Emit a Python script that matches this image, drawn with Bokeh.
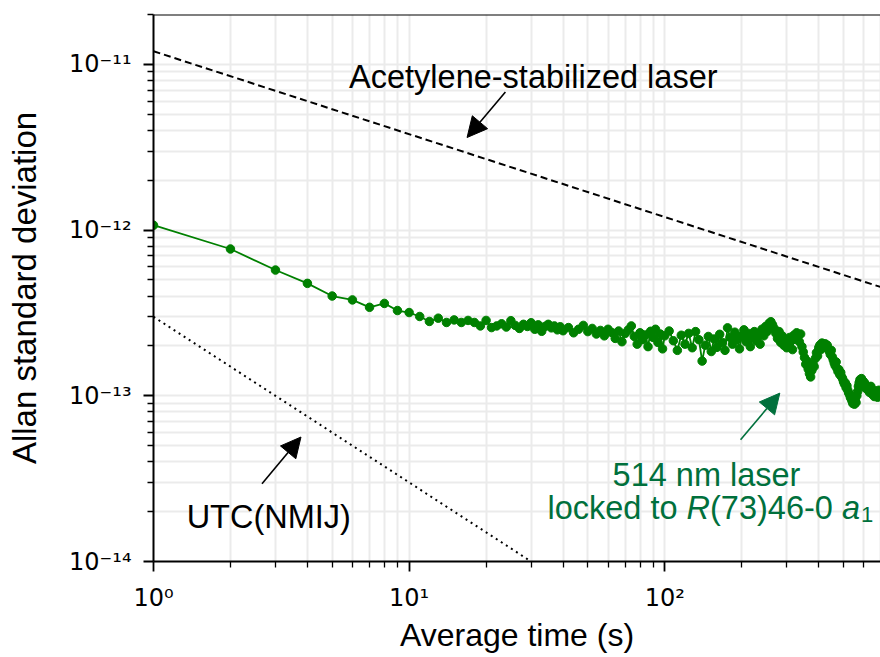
import numpy as np
from bokeh.plotting import figure
from bokeh.models import Range1d, FixedTicker, CustomJSTickFormatter, Label, Arrow, NormalHead, Span
from bokeh.embed import file_html
from bokeh.resources import INLINE

# ---------------- data ----------------
acet_tau = [1, 1000]
acet_sigma = [1.2e-11, 3.79e-13]

utc_tau = [1, 30]
utc_sigma = [3.0e-13, 1.0e-14]

laser_tau = list(range(1, 41)) + list(range(42, 101, 2)) + list(range(104, 701, 4))
laser_sigma_e13 = [
    # tau 1..40
    10.7, 7.69, 5.74, 4.77, 4.00, 3.79, 3.42, 3.61, 3.27, 3.18,
    3.01, 2.81, 2.94, 2.77, 2.87, 2.77, 2.85, 2.77, 2.64, 2.85,
    2.58, 2.64, 2.72, 2.60, 2.84, 2.66, 2.55, 2.70, 2.62, 2.76,
    2.52, 2.68, 2.45, 2.62, 2.70, 2.57, 2.64, 2.50, 2.61, 2.47,
    # tau 42..100 step 2
    2.58, 2.40, 2.52, 2.66, 2.44, 2.55, 2.36, 2.48, 2.30, 2.52,
    2.41, 2.22, 2.46, 2.12, 2.38, 2.50, 2.64, 2.28, 2.05, 2.40,
    2.18, 2.33, 1.98, 2.45, 2.25, 2.52, 2.10, 2.36, 1.92, 2.30,
    # tau 104..700 step 4
    2.46, 2.15, 1.88, 2.32, 2.05, 2.38, 1.95, 2.44, 2.18, 1.62,
    2.02, 2.28, 1.85, 2.20, 1.96, 2.35, 2.10, 1.88, 2.57, 2.25,
    2.05, 2.42, 2.18, 1.92, 2.30, 2.50, 2.12, 2.38, 1.98, 2.26,
    2.44, 2.15, 2.36, 2.05, 2.52, 2.30, 2.62, 2.45, 2.74, 2.80,
    2.68, 2.55, 2.38, 2.22, 2.44, 2.10, 2.30, 2.02, 2.18, 1.95,
    2.08, 2.25, 2.14, 1.90, 2.32, 2.20, 2.40, 2.28, 2.12, 2.36,
    1.98, 1.84, 1.70, 1.55, 1.62, 1.45, 1.36, 1.30, 1.42, 1.55,
    1.50, 1.68, 1.82, 1.74, 1.95, 2.02, 1.90, 2.08, 2.04, 2.00,
    2.06, 1.96, 2.02, 1.92, 1.86, 1.78, 1.88, 1.72, 1.65, 1.58,
    1.52, 1.60, 1.46, 1.40, 1.44, 1.34, 1.38, 1.30, 1.27, 1.22,
    1.18, 1.20, 1.12, 1.15, 1.08, 1.04, 1.02, 0.98, 0.96, 0.93,
    0.90, 0.92, 0.89, 0.95, 0.91, 1.00, 1.06, 1.14, 1.20, 1.25,
    1.22, 1.27, 1.18, 1.23, 1.16, 1.20, 1.12, 1.15, 1.10, 1.13,
    1.08, 1.12, 1.05, 1.09, 1.14, 1.06, 1.02, 1.08, 1.04, 0.99,
    1.03, 1.07, 1.01, 1.05, 0.98, 1.04, 1.08, 1.02, 1.06, 1.00,
]
laser_sigma = [v * 1e-13 for v in laser_sigma_e13]

x_major_ticks = [1, 10, 100, 1000]
y_major_ticks = [1e-14, 1e-13, 1e-12, 1e-11]

x_title = "Average time (s)"
y_title = "Allan standard deviation"

# ---------------- figure ----------------
GREEN = "#008000"
ANN_GREEN = "#00703c"
FONT = "Liberation Sans"
ANN_SIZE = "32.5px"

p = figure(width=880, height=655,
           x_axis_type="log", y_axis_type="log",
           x_range=Range1d(1, 698), y_range=Range1d(1e-14, 2e-11),
           output_backend="svg", toolbar_location=None,
           min_border_left=153, min_border_right=0,
           min_border_top=14, min_border_bottom=93)
p.outline_line_color = None
p.background_fill_color = "white"

x_minor = [m * 10 ** e for e in range(0, 3) for m in range(2, 10)]
y_minor = [m * 10.0 ** e for e in range(-14, -10) for m in range(2, 10)]

fmt_code = """
const sup = {"-": "\u207b", "0": "\u2070", "1": "\u00b9", "2": "\u00b2", "3": "\u00b3",
             "4": "\u2074", "5": "\u2075", "6": "\u2076", "7": "\u2077", "8": "\u2078", "9": "\u2079"};
const e = Math.round(Math.log10(tick));
return "10" + String(e).split("").map(c => sup[c]).join("");
"""

x_ticker = FixedTicker(ticks=x_major_ticks, minor_ticks=x_minor)
y_ticker = FixedTicker(ticks=y_major_ticks, minor_ticks=y_minor)
p.xaxis[0].ticker = x_ticker
p.yaxis[0].ticker = y_ticker

for ax in (p.xaxis[0], p.yaxis[0]):
    ax.formatter = CustomJSTickFormatter(code=fmt_code)
    ax.axis_line_width = 2
    ax.axis_line_color = "black"
    ax.major_tick_line_width = 1.8
    ax.minor_tick_line_width = 1.3
    ax.major_tick_out = 10
    ax.major_tick_in = 0
    ax.minor_tick_out = 6
    ax.minor_tick_in = 0
    ax.major_label_text_font = "DejaVu Sans"
    ax.major_label_text_font_size = "24px"
    ax.major_label_text_color = "black"
    ax.axis_label_text_font = FONT
    ax.axis_label_text_font_style = "normal"
    ax.axis_label_text_color = "black"

p.xaxis[0].axis_label = x_title
p.yaxis[0].axis_label = y_title
p.xaxis[0].axis_label_text_font_size = "32px"
p.yaxis[0].axis_label_text_font_size = "33px"
p.xaxis[0].major_label_standoff = 12
p.yaxis[0].major_label_standoff = 12
p.xaxis[0].axis_label_standoff = 2
p.yaxis[0].axis_label_standoff = 23

p.xgrid[0].ticker = x_ticker
p.ygrid[0].ticker = y_ticker
for g in (p.xgrid[0], p.ygrid[0]):
    g.grid_line_color = "#ebebeb"
    g.grid_line_width = 2
    g.minor_grid_line_color = "#ebebeb"
    g.minor_grid_line_width = 2

# top spine
p.add_layout(Span(location=2e-11, dimension="width", line_color="black", line_width=2))

# reference lines
p.line(acet_tau, acet_sigma, line_color="black", line_width=2, line_dash="7 4")
p.line(utc_tau, utc_sigma, line_color="black", line_width=2, line_dash="2 4")

# measured data
p.line(laser_tau, laser_sigma, line_color=GREEN, line_width=1.8)
p.scatter(laser_tau, laser_sigma, size=8.5, fill_color=GREEN, line_color=GREEN)

# ---------------- annotations ----------------
p.add_layout(Label(x=30.6, y=8.39e-12, text="Acetylene-stabilized laser",
                   text_font=FONT, text_font_size=ANN_SIZE, text_color="black",
                   text_align="center", text_baseline="alphabetic"))
p.add_layout(Arrow(x_start=23.8, y_start=6.81e-12, x_end=16.85, y_end=3.62e-12,
                   line_color="black", line_width=1.6,
                   end=NormalHead(size=20, fill_color="black", line_color="black")))

p.add_layout(Label(x=2.824, y=1.866e-14, text="UTC(NMIJ)",
                   text_font=FONT, text_font_size=ANN_SIZE, text_color="black",
                   text_align="center", text_baseline="alphabetic"))
p.add_layout(Arrow(x_start=2.657, y_start=2.95e-14, x_end=3.775, y_end=5.64e-14,
                   line_color="black", line_width=1.6,
                   end=NormalHead(size=20, fill_color="black", line_color="black")))

p.add_layout(Label(x=145.6, y=3.34e-14, text="514 nm laser",
                   text_font=FONT, text_font_size=ANN_SIZE, text_color=ANN_GREEN,
                   text_align="center", text_baseline="alphabetic"))
pieces = [
    ("locked to ", "normal", 0, 0, ANN_SIZE),
    ("R", "italic", 139.1, 0, ANN_SIZE),
    ("(73)46-0 ", "normal", 162.6, 0, ANN_SIZE),
    ("a", "italic", 294.5, 0, ANN_SIZE),
    ("1", "normal", 313.5, -7, "22px"),
]
for txt, style, dx, dy, fs in pieces:
    p.add_layout(Label(x=34.75, y=2.106e-14, x_offset=dx, y_offset=dy, text=txt,
                       text_font=FONT, text_font_size=fs, text_font_style=style,
                       text_color=ANN_GREEN, text_align="left", text_baseline="alphabetic"))
p.add_layout(Arrow(x_start=197.9, y_start=5.43e-14, x_end=281.9, y_end=1.038e-13,
                   line_color=ANN_GREEN, line_width=1.6,
                   end=NormalHead(size=20, fill_color=ANN_GREEN, line_color=ANN_GREEN)))

open("out.html", "w").write(file_html(p, INLINE))
